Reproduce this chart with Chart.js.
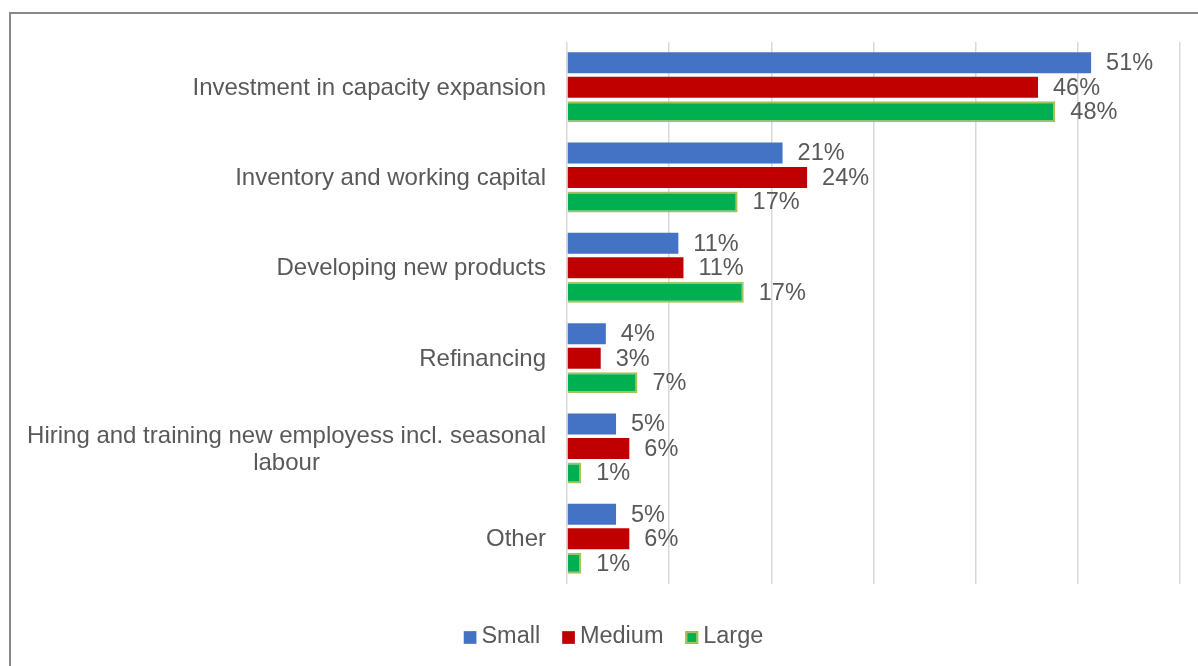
<!DOCTYPE html>
<html>
<head>
<meta charset="utf-8">
<script src="https://cdn.jsdelivr.net/npm/chart.js@4"></script>
<style>
    body { margin: 0; background: #fff; overflow: hidden; }
    .frame { position: absolute; left: 9px; top: 12px; width: 1300px; height: 800px; border: 2px solid #888; }
    .wrap { position: absolute; left: 0; top: 0; width: 1198px; height: 666px; }
</style>
</head>
<body>
<div class="frame"></div>
<div class="wrap"><canvas id="usesChart"></canvas></div>
<script>
// Data
const categories = [
    "Investment in capacity expansion",
    "Inventory and working capital",
    "Developing new products",
    "Refinancing",
    ["Hiring and training new employess incl. seasonal", "labour"],
    "Other"
];
const seriesNames = ["Small", "Medium", "Large"];
const small = [51.3, 21.1, 10.9, 3.8, 4.8, 4.8];
const medium = [46.1, 23.5, 11.4, 3.3, 6.1, 6.1];
const large = [47.8, 16.7, 17.3, 6.9, 1.4, 1.4];
const xTicks = [0, 10, 20, 30, 40, 50, 60];

const textColor = "#595959";
const fontFamily = "'Liberation Sans', Arial, sans-serif";
const fontSize = 23.5;
const categoryFontSize = 24;

// Category labels: block right aligned, lines centred inside the block
const categoryLabels = {
    id: "categoryLabels",
    afterDraw(chart) {
        const ctx = chart.ctx;
        const yScale = chart.scales.y;
        const right = chart.chartArea.left - 21;
        const lineH = 27;
        ctx.save();
        ctx.font = categoryFontSize + "px " + fontFamily;
        ctx.fillStyle = textColor;
        ctx.textAlign = "center";
        ctx.textBaseline = "middle";
        categories.forEach((label, i) => {
            const lines = Array.isArray(label) ? label : [label];
            const widest = Math.max(...lines.map(l => ctx.measureText(l).width));
            const cx = right - widest / 2;
            const cy = yScale.getPixelForValue(i) + 1;
            const startY = cy - (lines.length - 1) * lineH / 2;
            lines.forEach((l, j) => ctx.fillText(l, cx, startY + j * lineH));
        });
        ctx.restore();
    }
};

// Value labels at the end of each bar
const valueLabels = {
    id: "valueLabels",
    afterDatasetsDraw(chart) {
        const ctx = chart.ctx;
        ctx.save();
        ctx.font = fontSize + "px " + fontFamily;
        ctx.fillStyle = textColor;
        ctx.textAlign = "left";
        ctx.textBaseline = "middle";
        chart.data.datasets.forEach((ds, di) => {
            chart.getDatasetMeta(di).data.forEach((bar, i) => {
                ctx.fillText(Math.round(ds.data[i]) + "%", bar.x + 15, bar.y + 1);
            });
        });
        ctx.restore();
    }
};

// Legend drawn below the plot
const bottomLegend = {
    id: "bottomLegend",
    afterDraw(chart) {
        const ctx = chart.ctx;
        const box = 12.7, gapText = 5, gapItem = 22;
        const centerX = 613.5, centerY = 637.5;
        ctx.save();
        ctx.font = fontSize + "px " + fontFamily;
        ctx.textBaseline = "middle";
        ctx.textAlign = "left";
        const widths = seriesNames.map(n => ctx.measureText(n).width);
        let total = 0;
        widths.forEach((w, i) => { total += box + gapText + w + (i < widths.length - 1 ? gapItem : 0); });
        let x = centerX - total / 2;
        chart.data.datasets.forEach((ds, i) => {
            ctx.fillStyle = ds.backgroundColor;
            ctx.fillRect(x, centerY - box / 2, box, box);
            if (ds.borderWidth) {
                ctx.strokeStyle = ds.borderColor;
                ctx.lineWidth = 2;
                ctx.strokeRect(x + 1, centerY - box / 2 + 1, box - 2, box - 2);
            }
            ctx.fillStyle = textColor;
            ctx.fillText(seriesNames[i], x + box + gapText, centerY - 1);
            x += box + gapText + widths[i] + gapItem;
        });
        ctx.restore();
    }
};

const usesCtx = document.getElementById("usesChart");

new Chart(usesCtx, {
    type: "bar",
    data: {
        labels: categories,
        datasets: [
            { label: seriesNames[0], data: small, backgroundColor: "#4472c4", borderWidth: 0 },
            { label: seriesNames[1], data: medium, backgroundColor: "#c00000", borderWidth: 0 },
            { label: seriesNames[2], data: large, backgroundColor: "#00b050", borderColor: "#a6c25a", borderWidth: 2 }
        ]
    },
    options: {
        indexAxis: "y",
        responsive: true,
        maintainAspectRatio: false,
        animation: false,
        categoryPercentage: 0.814,
        barPercentage: 0.857,
        layout: {
            padding: { left: 0, right: 18, top: 42, bottom: 82 }
        },
        plugins: {
            legend: { display: false },
            tooltip: { enabled: false }
        },
        scales: {
            x: {
                min: 0,
                max: 60,
                afterBuildTicks: (scale) => { scale.ticks = xTicks.map(v => ({ value: v })); },
                ticks: { display: false },
                grid: { color: "#d9d9d9", lineWidth: 1.5, drawTicks: false },
                border: { display: false },
                afterFit: (scale) => { scale.height = 0; }
            },
            y: {
                ticks: { display: false },
                grid: { display: false, drawTicks: false },
                border: { display: false },
                afterFit: (scale) => { scale.width = 567; }
            }
        }
    },
    plugins: [categoryLabels, valueLabels, bottomLegend]
});
</script>
</body>
</html>
